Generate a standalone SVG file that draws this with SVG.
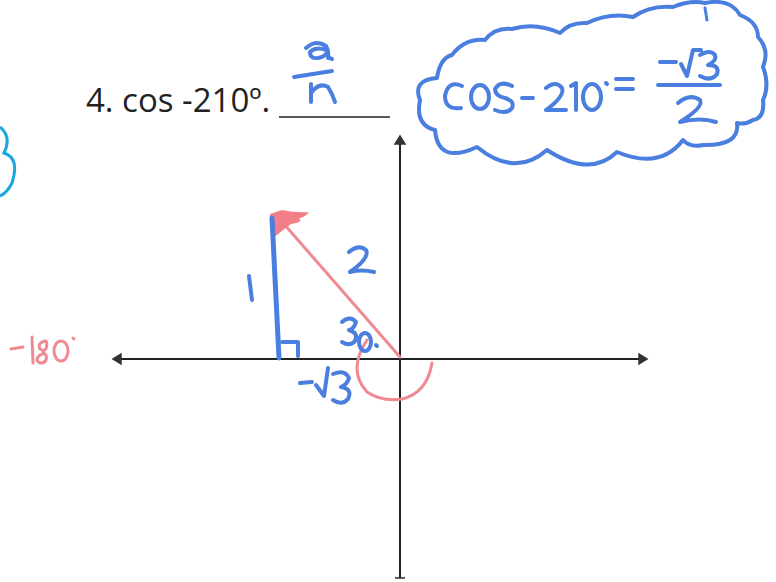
<svg xmlns="http://www.w3.org/2000/svg" width="776" height="582" viewBox="0 0 776 582">
<style>
.ax{stroke:#222;stroke-width:2;fill:none}
.blue{stroke:#4a7fe0;fill:none;stroke-linecap:round;stroke-linejoin:round}
.pink{stroke:#f08a90;fill:none;stroke-linecap:round;stroke-linejoin:round}
</style>
<rect width="776" height="582" fill="#fff"/>
<g id="question">
<text x="86" y="112" font-family="Open Sans, Liberation Sans, sans-serif" font-size="33" fill="#222">4. cos -210º.</text>
<line x1="279" y1="117" x2="390" y2="117" stroke="#222" stroke-width="1.6"/>
</g>
<g id="hint">
<path class="blue" stroke-width="4" d="M306,48 q10,-9 20,-2 q3,5 2,12 M326,50 q-10,-4 -16,2 q0,7 8,6 q6,-1 9,-5 q1,5 5,6 M294,77 l38,-6 M311,84 v18 M311,93 q8,-11 17,-6 q4,6 7,15"/>
</g>
<g id="cloud">
<path class="blue" stroke-width="4" d="M435,130 Q415,125 420,100 Q412,80 437,78 Q440,58 452,55 Q465,38 485,40 Q495,27 512,29 Q535,22 560,33 Q570,22 587,23 Q610,12 633,17 Q650,5 673,7 Q690,0 705,3 Q730,-2 740,15 Q758,22 758,37 Q770,50 763,67 Q770,85 763,100 Q765,118 753,120 Q745,125 737,123 Q740,146 703,145 Q690,148 683,140 Q660,170 617,152 Q590,178 547,150 Q515,178 477,147 Q438,165 435,130 Z"/>
<path class="blue" stroke-width="3" d="M705,8 l2,12"/>
<path class="blue" stroke-width="4" d="M462,86 q-14,-6 -17,10 q0,14 16,12"/>
<ellipse class="blue" stroke-width="4" cx="480" cy="97" rx="9" ry="12"/>
<path class="blue" stroke-width="4" d="M512,86 q-12,-6 -17,3 q0,7 10,9 q10,3 7,10 q-5,7 -17,2 M522,98 h11 M546,88 q10,-8 16,0 q3,8 -16,22 h20 M571,86 l5,-3 v27"/>
<ellipse class="blue" stroke-width="4" cx="592" cy="97" rx="9" ry="13"/>
<path class="blue" stroke-width="4" d="M606,83 l1,1 M616,79 h17 M616,89 h17"/>
<path class="blue" stroke-width="4" d="M660,62 h16 M681,64 l6,12 l6,-26 h8 M700,55 q10,-6 15,0 q2,6 -7,10 q12,0 9,9 q-6,8 -17,2 M658,85 h62 M678,103 q12,-10 22,-3 q4,7 -20,22 q20,-5 36,0"/>
</g>
<g id="leftcloud">
<path stroke="#1aa6e0" stroke-width="3" fill="none" d="M0,127 q12,10 4,26 q16,5 8,30 q-5,10 -12,13"/>
</g>
<g id="axes">
<line class="ax" x1="118" y1="359" x2="644" y2="359"/>
<line class="ax" x1="400" y1="139" x2="400" y2="578"/>
<path d="M113,359 l8,-5 v10 z M647,359 l-8,-5 v10 z M400,136 l-5,8 h10 z M395,578 h10" fill="#333" stroke="#333" stroke-width="1.5"/>
</g>
<g id="triangle">
<line class="pink" stroke-width="3" x1="400" y1="357" x2="284" y2="224"/>
<path d="M270,214 l12,-4 q14,3 27,2 q-5,6 -10,6 q5,4 -8,6 q-8,6 -19,15 z" fill="#f27f88"/>
<path class="blue" stroke-width="5" d="M272,218 l7,140"/>
<path class="blue" stroke-width="4" d="M282,342 h16 v14"/>
<path class="pink" stroke-width="3" d="M367,340 q-20,30 0,52 q15,10 35,7 q25,-6 30,-36"/>
</g>
<g id="labels">
<path class="blue" stroke-width="4" d="M249,276 l3,24 M349,252 q10,-8 17,-2 q4,8 -16,22 q12,-3 24,0"/>
<path class="blue" stroke-width="4" d="M342,322 q8,-7 14,0 q-2,7 -7,8 q10,3 6,11 q-5,6 -13,1 M376,345 l1,1 M300,383 l12,-1 M316,385 l8,11 l4,-28 M333,374 q12,-5 16,4 q-2,7 -8,9 q12,2 7,12 q-6,7 -15,1"/>
<ellipse class="blue" stroke-width="4" cx="365" cy="342" rx="6" ry="9"/>
<path class="pink" stroke-width="3" d="M11,349 l12,-2 M32,337 l1,26 M45,341 q-8,2 -5,8 q8,4 0,6 q-6,5 0,8 q8,0 6,-8 q-6,-3 0,-6 q2,-8 -1,-8 z"/>
<ellipse class="pink" stroke-width="3" cx="61" cy="351" rx="7" ry="10"/>
<path class="pink" stroke-width="3" d="M73,338 l1,1"/>
</g>
</svg>
